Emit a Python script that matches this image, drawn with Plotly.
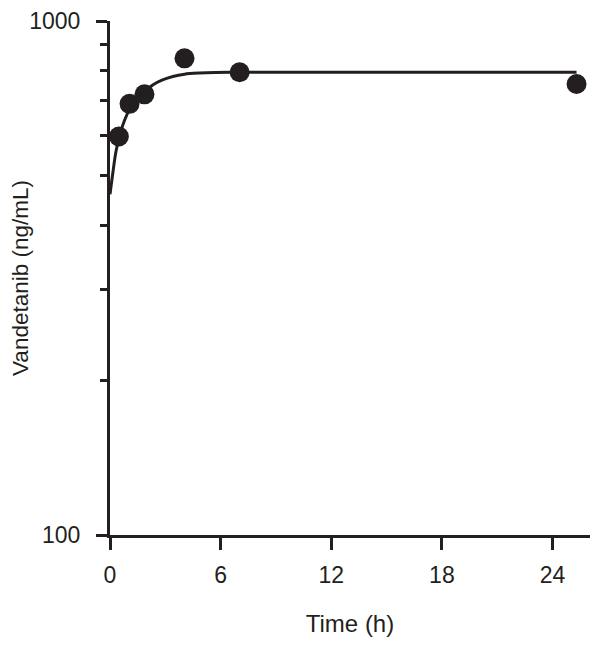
import plotly.graph_objects as go

# Observed data points
time_h = [0.48, 1.06, 1.87, 4.04, 7.03, 25.3]
conc = [596, 690, 720, 846, 795, 754]

# Fitted curve
fit_time = [0, 0.15, 0.34, 0.79, 1.42, 2.32, 2.85, 3.41, 4.04, 4.86, 5.7, 7.0, 10.0, 25.3]
fit_conc = [460, 505, 561, 641, 707, 751, 768, 780, 788, 792, 794, 795, 795, 795]

x_ticks = [0, 6, 12, 18, 24]
y_major = [100, 1000]
y_minor = [200, 300, 400, 500, 600, 700, 800, 900]

ink = "#231f20"
tick_font = dict(family="Liberation Sans, Arial, sans-serif", size=23, color=ink)
title_font = dict(family="Liberation Sans, Arial, sans-serif", size=24, color=ink)

fig = go.Figure()
fig.add_trace(go.Scatter(x=fit_time, y=fit_conc, mode="lines",
                         line=dict(color=ink, width=3, shape="spline", smoothing=0.8),
                         cliponaxis=False, showlegend=False))
fig.add_trace(go.Scatter(x=time_h, y=conc, mode="markers",
                         marker=dict(color=ink, size=20),
                         cliponaxis=False, showlegend=False))

fig.update_layout(
    width=602, height=651,
    margin=dict(l=102, r=20, t=13, b=124),
    paper_bgcolor="white", plot_bgcolor="white",
    font=tick_font,
    xaxis=dict(range=[0, 26.03], tickvals=x_ticks, ticks="outside", ticklen=12,
               tickwidth=3, tickcolor=ink, showline=True, linecolor=ink, linewidth=3,
               showgrid=False, zeroline=False, ticklabelstandoff=5, automargin=False,
               tickfont=tick_font,
               title=dict(text="Time (h)", font=title_font, standoff=29)),
    yaxis=dict(type="log", range=[2, 3], tickvals=y_major, ticktext=["100", "1000"],
               ticks="outside", ticklen=11, tickwidth=3, tickcolor=ink,
               showline=True, linecolor=ink, linewidth=3, showgrid=False, zeroline=False,
               ticklabelstandoff=11, automargin=False, tickfont=tick_font,
               minor=dict(tickvals=y_minor, ticks="outside", ticklen=7, tickwidth=3,
                          tickcolor=ink, showgrid=False),
               title=dict(text="Vandetanib (ng/mL)", font=dict(tick_font, size=22.5),
                          standoff=4)),
)

fig.write_html("out.html")
